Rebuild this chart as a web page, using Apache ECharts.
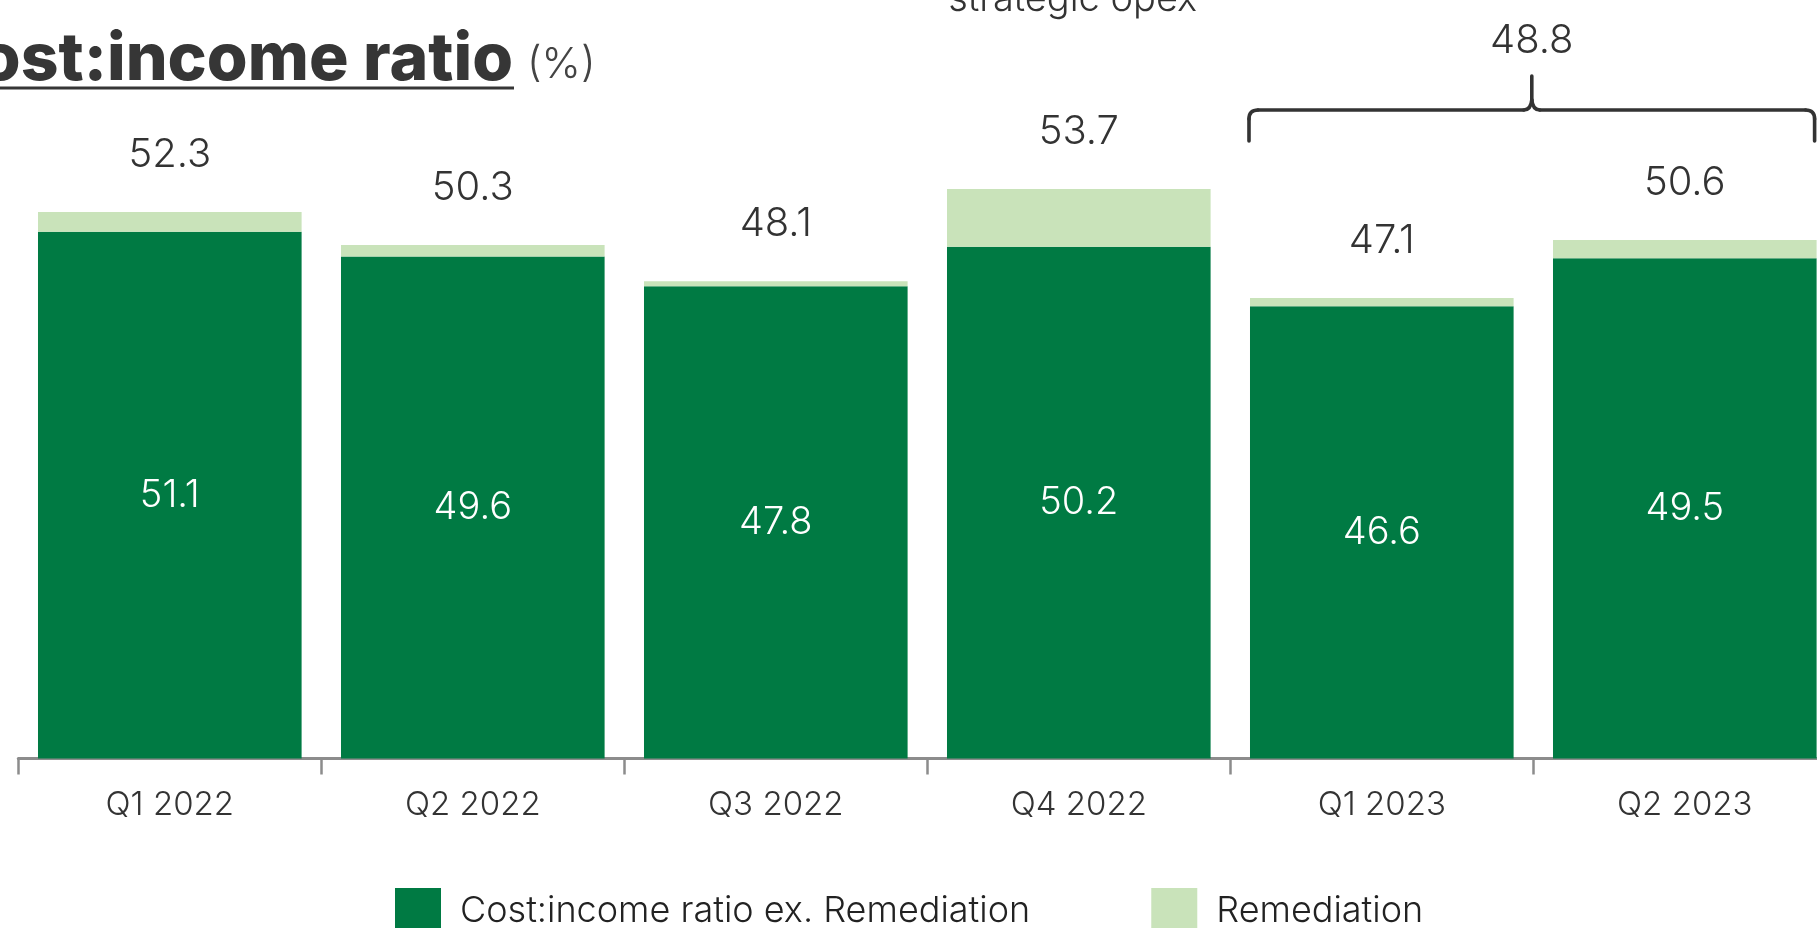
<!DOCTYPE html>
<html>
<head>
<meta charset="utf-8">
<script src="https://cdn.jsdelivr.net/npm/echarts@6/dist/echarts.min.js"></script>
<style>
html,body{margin:0;padding:0;background:#fff;overflow:hidden;}
#chart{width:1840px;height:928px;}
</style>
</head>
<body>
<div id="chart"></div>
<script>
// ---- data ----
const categories = ['Q1 2022', 'Q2 2022', 'Q3 2022', 'Q4 2022', 'Q1 2023', 'Q2 2023'];
const exRemediation = [51.1, 49.6, 47.8, 50.2, 46.6, 49.5];
const remediation = [1.2, 0.7, 0.3, 3.5, 0.5, 1.1];
const totals = [52.3, 50.3, 48.1, 53.7, 47.1, 50.6];
const seriesNames = ['Cost:income ratio ex. Remediation', 'Remediation'];
const bracketCategories = ['Q1 2023', 'Q2 2023'];
const bracketLabel = '48.8';
const titleText = 'Cost:income ratio';
const titleUnit = '(%)';
const topNote = 'strategic opex';

const FONT = 'Inter, "Open Sans", sans-serif';
const DARK = '#007A43';
const LIGHT = '#C9E3BA';
const TEXT = '#333333';

const chart = echarts.init(document.getElementById('chart'), null, {renderer: 'canvas'});
const gapPct = 13;

chart.setOption({
  animation: false,
  backgroundColor: '#ffffff',
  grid: {left: 18.3, right: 3.7, top: 84.9, bottom: 169.5},
  legend: {
    left: 395, top: 888, padding: 0,
    itemWidth: 46, itemHeight: 46, itemGap: 121,
    icon: 'rect',
    textStyle: {fontFamily: FONT, fontSize: 36, color: '#222', fontWeight: 300, padding: [0, 0, 0, 14]},
    data: seriesNames
  },
  xAxis: {
    type: 'category',
    data: categories,
    axisLine: {show: true, lineStyle: {color: '#8c8c8c', width: 3}},
    axisTick: {show: true, length: 16, lineStyle: {color: '#8c8c8c', width: 2.5}},
    axisLabel: {fontFamily: FONT, fontSize: 33, color: TEXT, margin: 30, fontWeight: 300}
  },
  yAxis: {type: 'value', min: 19.2, max: 60, show: false, splitLine: {show: false}},
  series: [
    {
      name: seriesNames[0], type: 'bar', stack: 'cir', data: exRemediation,
      barCategoryGap: gapPct + '%',
      itemStyle: {color: DARK},
      label: {show: true, position: 'inside', color: '#fff', fontFamily: FONT, fontSize: 38, fontWeight: 300}
    },
    {
      name: seriesNames[1], type: 'bar', stack: 'cir', data: remediation,
      barCategoryGap: gapPct + '%',
      itemStyle: {color: LIGHT},
      label: {
        show: true, position: 'top', distance: 37, lineHeight: 40,
        color: TEXT, fontFamily: FONT, fontSize: 40, fontWeight: 300,
        formatter: p => totals[p.dataIndex].toFixed(1)
      }
    }
  ]
});

// annotation positions derived from the axis
const xa = chart.convertToPixel({xAxisIndex: 0}, bracketCategories[0]);
const xb = chart.convertToPixel({xAxisIndex: 0}, bracketCategories[1]);
const band = xb - xa;
const half = band * (1 - gapPct / 100) / 2;
const L = xa - half - 1, R = xb + half - 2, M = (L + R) / 2;
const yH = 110, yLeg = 141, yTip = 76, r = 9;
const braceStyle = {stroke: '#333333', lineWidth: 3.6, lineCap: 'round', fill: 'none'};
const xq4 = chart.convertToPixel({xAxisIndex: 0}, 'Q4 2022');

chart.setOption({
  graphic: [
    {type: 'text', style: {text: titleText, x: 513, y: 60, align: 'right', verticalAlign: 'middle',
      font: '800 66px ' + FONT, fill: '#363636'}},
    {type: 'rect', shape: {x: 0, y: 86.5, width: 514, height: 3}, style: {fill: '#363636'}},
    {type: 'text', style: {text: titleUnit, x: 527, y: 65, align: 'left', verticalAlign: 'middle',
      font: '300 42px ' + FONT, fill: '#444'}},
    {type: 'text', style: {text: topNote, x: xq4 - 6, y: 0, align: 'center', verticalAlign: 'middle',
      font: '300 38px ' + FONT, fill: TEXT}},
    // brace
    {type: 'line', shape: {x1: L, y1: yLeg, x2: L, y2: yH + r}, style: braceStyle},
    {type: 'bezierCurve', shape: {x1: L, y1: yH + r, cpx1: L, cpy1: yH, x2: L + r, y2: yH}, style: braceStyle},
    {type: 'line', shape: {x1: L + r, y1: yH, x2: M - 8, y2: yH}, style: braceStyle},
    {type: 'bezierCurve', shape: {x1: M - 8, y1: yH, cpx1: M - 1, cpy1: yH, x2: M, y2: yH - 10}, style: braceStyle},
    {type: 'line', shape: {x1: M, y1: yH - 10, x2: M, y2: yTip}, style: braceStyle},
    {type: 'bezierCurve', shape: {x1: M, y1: yH - 10, cpx1: M + 1, cpy1: yH, x2: M + 8, y2: yH}, style: braceStyle},
    {type: 'line', shape: {x1: M + 8, y1: yH, x2: R - r, y2: yH}, style: braceStyle},
    {type: 'bezierCurve', shape: {x1: R - r, y1: yH, cpx1: R, cpy1: yH, x2: R, y2: yH + r}, style: braceStyle},
    {type: 'line', shape: {x1: R, y1: yH + r, x2: R, y2: yLeg}, style: braceStyle},
    {type: 'text', style: {text: bracketLabel, x: M, y: 40.5, align: 'center', verticalAlign: 'middle',
      font: '300 40px ' + FONT, fill: TEXT}}
  ]
});
</script>
</body>
</html>
